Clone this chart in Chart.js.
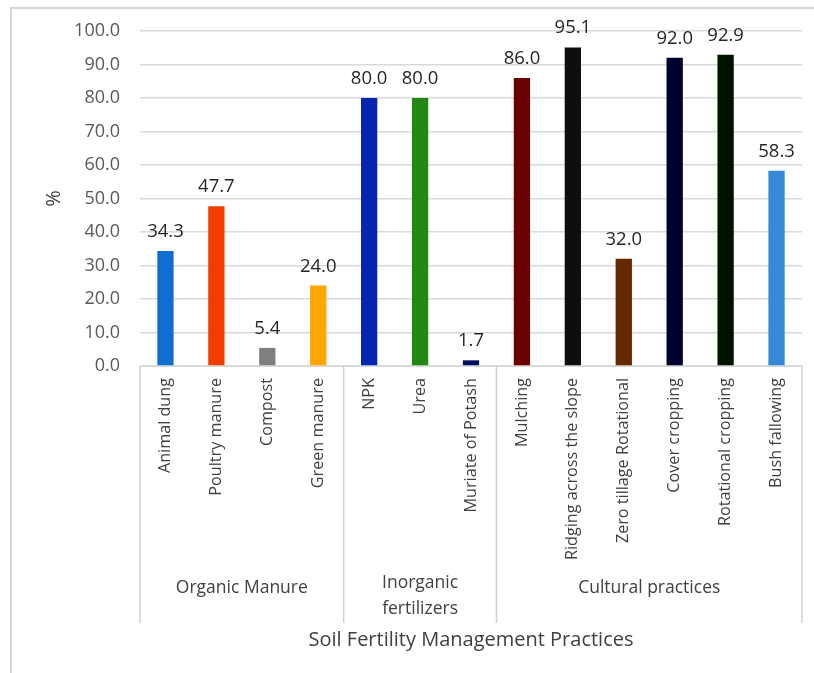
<!DOCTYPE html>
<html>
<head>
<meta charset="utf-8">
<script src="https://cdn.jsdelivr.net/npm/chart.js@4/dist/chart.umd.min.js"></script>
<style>
  html, body { margin: 0; padding: 0; background: #ffffff; }
  canvas { display: block; }
</style>
</head>
<body>
<canvas id="chart" width="814" height="673"></canvas>
<script>
// Soil fertility management practices adopted (% of respondents)
const practices = [
  'Animal dung', 'Poultry manure', 'Compost', 'Green manure',
  'NPK', 'Urea', 'Muriate of Potash',
  'Mulching', 'Ridging across the slope', 'Zero tillage Rotational',
  'Cover cropping', 'Rotational cropping', 'Bush fallowing'
];
const adoption = [34.3, 47.7, 5.4, 24.0, 80.0, 80.0, 1.7, 86.0, 95.1, 32.0, 92.0, 92.9, 58.3];
const barColors = [
  '#0F6FD0', '#F23D00', '#7F7F7F', '#FFA600',
  '#0526B0', '#238714', '#00105C',
  '#6A0000', '#0E0E0E', '#662800',
  '#00002E', '#001400', '#3689D9'
];
const groupNames = ['Organic Manure', ['Inorganic', 'fertilizers'], 'Cultural practices'];
const groupSizes = [4, 3, 6];
const yTicks = [0, 10, 20, 30, 40, 50, 60, 70, 80, 90, 100];

const FONT = "'Open Sans', 'DejaVu Sans', sans-serif";

// light frame around the figure
const framePlugin = {
  id: 'frame',
  beforeDraw(chart) {
    const ctx = chart.ctx;
    ctx.save();
    ctx.strokeStyle = '#d6d6d6';
    ctx.lineWidth = 2;
    ctx.beginPath();
    ctx.moveTo(11, chart.height + 2);
    ctx.lineTo(11, 8);
    ctx.lineTo(chart.width + 2, 8);
    ctx.stroke();
    ctx.restore();
  }
};

// value printed above each bar
const valueLabels = {
  id: 'valueLabels',
  afterDatasetsDraw(chart) {
    const ctx = chart.ctx;
    const meta = chart.getDatasetMeta(0);
    const data = chart.data.datasets[0].data;
    ctx.save();
    ctx.font = `18.5px ${FONT}`;
    ctx.fillStyle = '#262626';
    ctx.textAlign = 'center';
    ctx.textBaseline = 'alphabetic';
    meta.data.forEach((bar, i) => {
      ctx.fillText(data[i].toFixed(1), bar.x, bar.y - 14);
    });
    ctx.restore();
  }
};

// group brackets and names under the category labels
const groupAxis = {
  id: 'groupAxis',
  afterDraw(chart) {
    const ctx = chart.ctx;
    const x = chart.scales.x;
    const top = chart.chartArea.bottom;
    const lineBottom = 623;
    ctx.save();
    ctx.strokeStyle = '#d0d0d0';
    ctx.lineWidth = 1.5;
    let start = 0;
    const edges = [x.getPixelForValue(-0.5)];
    groupSizes.forEach(n => { start += n; edges.push(x.getPixelForValue(start - 0.5)); });
    edges.forEach(px => {
      ctx.beginPath();
      ctx.moveTo(px, top);
      ctx.lineTo(px, lineBottom);
      ctx.stroke();
    });
    ctx.font = `17.5px ${FONT}`;
    ctx.fillStyle = '#404040';
    ctx.textAlign = 'center';
    ctx.textBaseline = 'middle';
    groupNames.forEach((name, g) => {
      const cx = (edges[g] + edges[g + 1]) / 2;
      if (Array.isArray(name)) {
        ctx.fillText(name[0], cx, 583);
        ctx.fillText(name[1], cx, 609);
      } else {
        ctx.fillText(name, cx, 588);
      }
    });
    ctx.restore();
  }
};

new Chart(document.getElementById('chart'), {
  type: 'bar',
  data: {
    labels: practices,
    datasets: [{
      data: adoption,
      backgroundColor: barColors,
      borderWidth: 0,
      barPercentage: 0.32,
      categoryPercentage: 1.0
    }]
  },
  options: {
    responsive: false,
    animation: false,
    layout: { padding: { left: 10, top: 31, right: 12, bottom: 0 } },
    plugins: {
      legend: { display: false },
      tooltip: { enabled: false }
    },
    scales: {
      x: {
        grid: { display: false, drawTicks: false },
        border: { display: true, color: '#d9d9d9' },
        ticks: {
          autoSkip: false,
          minRotation: 90,
          maxRotation: 90,
          padding: 12,
          color: '#404040',
          font: { family: FONT, size: 16.2 }
        },
        title: {
          display: true,
          text: 'Soil Fertility Management Practices',
          color: '#404040',
          font: { family: FONT, size: 20 },
          padding: { top: 0, bottom: 21 }
        },
        afterFit(scale) { scale.height = 307; }
      },
      y: {
        min: 0,
        max: 100,
        afterBuildTicks(scale) { scale.ticks = yTicks.map(v => ({ value: v })); },
        grid: { color: '#d9d9d9', lineWidth: 1.5, drawTicks: false },
        border: { display: false },
        ticks: {
          padding: 20,
          color: '#595959',
          font: { family: FONT, size: 18 },
          callback: v => Number(v).toFixed(1)
        },
        title: {
          display: true,
          text: '%',
          color: '#404040',
          font: { family: FONT, size: 20 },
          padding: { top: 32, bottom: 0 }
        },
        afterFit(scale) { scale.width = 130; }
      }
    }
  },
  plugins: [framePlugin, valueLabels, groupAxis]
});
</script>
</body>
</html>
